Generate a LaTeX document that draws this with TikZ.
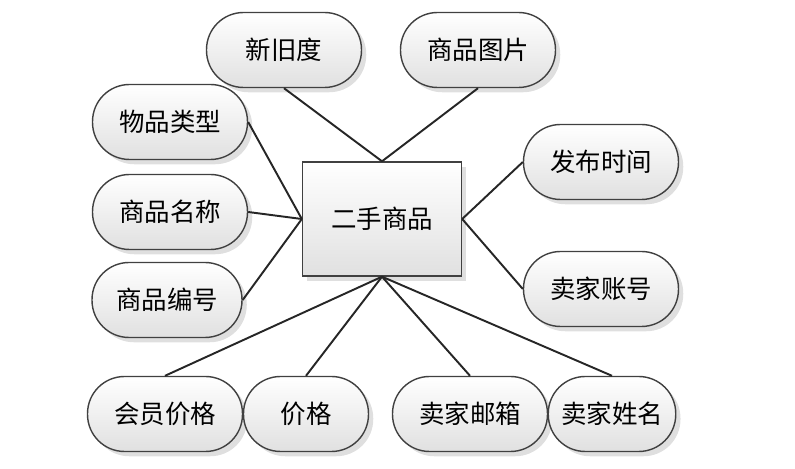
\documentclass[tikz,border=0pt]{standalone}
\usepackage{fontspec}
\setmainfont{Noto Sans CJK SC}
\usetikzlibrary{positioning, shadows}

\begin{document}
\begin{tikzpicture}[
    x=0.02cm, y=-0.02cm,
    attr/.style={rectangle, rounded corners=0.74cm, draw=black!75, thick, top color=white, bottom color=black!12, drop shadow={opacity=0.25}, minimum width=3.1cm, minimum height=1.5cm, font=\fontsize{14.5}{16}\selectfont},
    entity/.style={rectangle, draw=black!75, thick, top color=white, bottom color=black!12, drop shadow={opacity=0.25}, minimum width=3.18cm, minimum height=2.28cm, font=\fontsize{14.5}{16}\selectfont},
    link/.style={line width=1.1pt, black!85}
]
\useasboundingbox (0,0) rectangle (795,469);

% entity
\node[entity] (goods) at (382,219) {二手商品};

% attributes
\node[attr] (wear) at (284,50) {新旧度};
\node[attr] (pic) at (478,50) {商品图片};
\node[attr] (type) at (170,122) {物品类型};
\node[attr] (name) at (170,212) {商品名称};
\node[attr, minimum width=3cm] (code) at (167,300) {商品编号};
\node[attr] (time) at (601,162) {发布时间};
\node[attr] (acct) at (601,289) {卖家账号};
\node[attr] (vip) at (165,414) {会员价格};
\node[attr, minimum width=2.5cm] (price) at (306,414) {价格};
\node[attr] (mail) at (470,414) {卖家邮箱};
\node[attr, minimum width=2.55cm] (seller) at (612,414) {卖家姓名};

% connectors
\draw[link] (wear.south) -- (goods.north);
\draw[link] (pic.south) -- (goods.north);
\draw[link] (type.east) -- (goods.west);
\draw[link] (name.east) -- (goods.west);
\draw[link] (code.east) -- (goods.west);
\draw[link] (time.west) -- (goods.east);
\draw[link] (acct.west) -- (goods.east);
\draw[link] (goods.south) -- (vip.north);
\draw[link] (goods.south) -- (price.north);
\draw[link] (goods.south) -- (mail.north);
\draw[link] (goods.south) -- (seller.north);

\end{tikzpicture}
\end{document}
